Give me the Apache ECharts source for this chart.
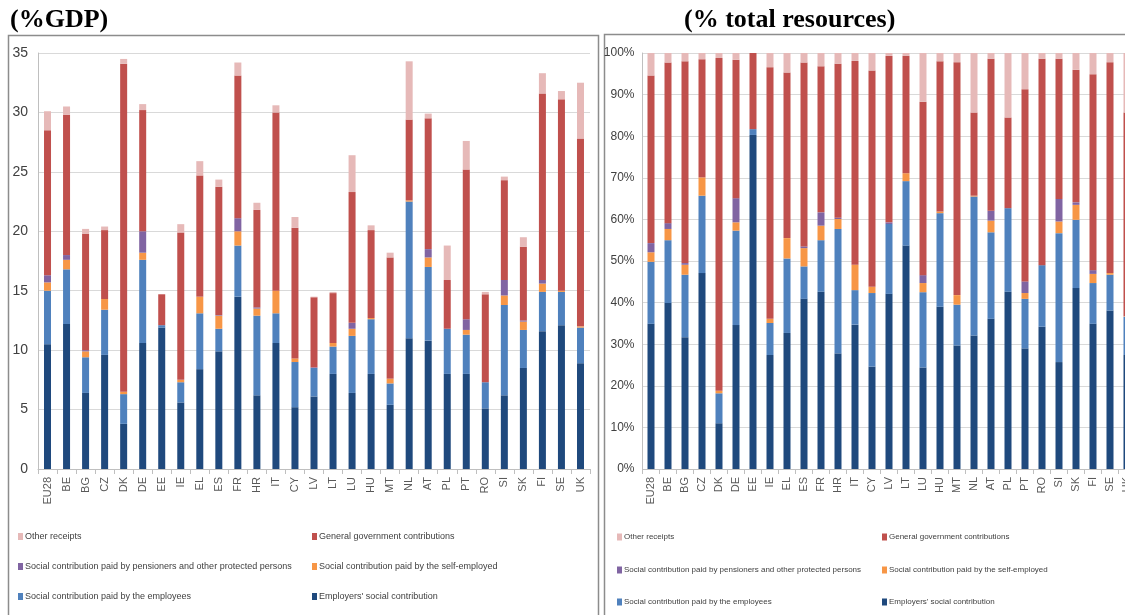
<!DOCTYPE html>
<html>
<head>
<meta charset="utf-8">
<script src="https://cdn.jsdelivr.net/npm/echarts@6/dist/echarts.min.js"></script>
<style>
  html, body { margin: 0; padding: 0; background: #fff; overflow: hidden; }
  /* wider than the window: the right panel is cut off at the edge, as in the source */
  #chart { width: 1150px; height: 615px; }
</style>
</head>
<body>
<div id="chart"></div>
<script>
const countries = ["EU28", "BE", "BG", "CZ", "DK", "DE", "EE", "IE", "EL", "ES", "FR", "HR", "IT", "CY", "LV",
  "LT", "LU", "HU", "MT", "NL", "AT", "PL", "PT", "RO", "SI", "SK", "FI", "SE", "UK"]

const seriesNames = [
  "Employers' social contribution",
  "Social contribution paid by the employees",
  "Social contribution paid by the self-employed",
  "Social contribution paid by pensioners and other protected persons",
  "General government contributions",
  "Other receipts"
]

// left panel, % of GDP
const gdpEmployers = [10.5, 12.2, 6.4, 9.6, 3.8, 10.6, 11.9, 5.6, 8.4, 9.9, 14.5, 6.2, 10.6, 5.2, 6.1,
  8.0, 6.4, 8.0, 5.4, 11.0, 10.8, 8.0, 8.0, 5.1, 6.2, 8.5, 11.6, 12.1, 8.9]
const gdpEmployees = [4.5, 4.6, 3.0, 3.8, 2.5, 7.0, 0.2, 1.7, 4.7, 1.9, 4.3, 6.7, 2.5, 3.8, 2.4,
  2.3, 4.8, 4.6, 1.8, 11.5, 6.2, 3.8, 3.3, 2.2, 7.6, 3.2, 3.3, 2.8, 3.0]
const gdpSelfEmployed = [0.7, 0.8, 0.5, 0.9, 0.2, 0.6, 0, 0.2, 1.4, 1.1, 1.2, 0.6, 1.9, 0.3, 0,
  0.3, 0.6, 0.1, 0.4, 0.1, 0.8, 0, 0.4, 0, 0.8, 0.7, 0.7, 0.1, 0.1]
const gdpPensioners = [0.6, 0.4, 0.1, 0, 0, 1.8, 0, 0, 0, 0.05, 1.1, 0.1, 0, 0, 0.05,
  0, 0.5, 0, 0, 0, 0.7, 0, 0.9, 0, 1.3, 0.1, 0.3, 0, 0]
const gdpGovernment = [12.2, 11.8, 9.8, 5.8, 27.6, 10.2, 2.6, 12.4, 10.2, 10.8, 12.0, 8.2, 15.0, 11.0, 5.9,
  4.2, 11.0, 7.4, 10.2, 6.8, 11.0, 4.1, 12.6, 7.4, 8.4, 6.2, 15.7, 16.1, 15.8]
const gdpOther = [1.6, 0.7, 0.4, 0.3, 0.4, 0.5, 0, 0.7, 1.2, 0.6, 1.1, 0.6, 0.6, 0.9, 0.05,
  0.1, 3.1, 0.4, 0.4, 4.9, 0.4, 2.9, 2.4, 0.2, 0.3, 0.8, 1.7, 0.7, 4.7]

// right panel, % of total resources
const resEmployers = [34.9, 39.9, 31.7, 47.1, 11.0, 34.6, 80.3, 27.4, 32.7, 40.9, 42.6, 27.8, 34.7, 24.6, 42.1,
  53.7, 24.4, 39.0, 29.7, 32.1, 36.1, 42.6, 29.0, 34.2, 25.7, 43.5, 34.9, 38.1, 27.4]
const resEmployees = [14.9, 15.1, 15.0, 18.6, 7.2, 22.7, 1.4, 7.7, 17.9, 7.8, 12.4, 29.9, 8.3, 17.7, 16.8,
  15.5, 18.1, 22.5, 9.8, 33.4, 20.8, 20.1, 11.9, 14.8, 31.0, 16.4, 9.8, 8.6, 9.2]
const resSelfEmployed = [2.3, 2.7, 2.4, 4.4, 0.6, 2.0, 0, 1.0, 4.9, 4.4, 3.5, 2.4, 6.1, 1.5, 0,
  1.9, 2.2, 0.4, 2.3, 0.2, 2.8, 0, 1.4, 0, 2.8, 3.6, 2.2, 0.4, 0.1]
const resPensioners = [2.2, 1.4, 0.4, 0, 0, 5.8, 0, 0, 0, 0.4, 3.2, 0.3, 0, 0, 0.4,
  0, 1.9, 0, 0, 0, 2.4, 0, 2.8, 0, 5.4, 0.6, 0.9, 0, 0]
const resGovernment = [40.3, 38.6, 48.5, 28.4, 80.0, 33.3, 18.3, 60.5, 39.8, 44.2, 35.1, 37.0, 49.0, 52.0, 40.0,
  28.2, 41.7, 36.1, 56.0, 20.0, 36.5, 21.8, 46.2, 49.6, 33.7, 31.9, 47.1, 50.7, 49.0]
const resOther = [5.4, 2.3, 2.0, 1.5, 1.2, 1.6, 0, 3.4, 4.7, 2.3, 3.2, 2.6, 1.9, 4.2, 0.7,
  0.7, 11.7, 2.0, 2.2, 14.3, 1.4, 15.5, 8.7, 1.4, 1.4, 4.0, 5.1, 2.2, 14.3]

const colors = ["#1f497d", "#4f81bd", "#f79646", "#8064a2", "#c0504d", "#e6b9b8"]
const sans = "'Liberation Sans', Arial, sans-serif"

const gdpData = [gdpEmployers, gdpEmployees, gdpSelfEmployed, gdpPensioners, gdpGovernment, gdpOther]
const resData = [resEmployers, resEmployees, resSelfEmployed, resPensioners, resGovernment, resOther]

function xAxisFor(gridIndex) {
  return {
    type: "category",
    gridIndex: gridIndex,
    data: countries,
    axisLine: { lineStyle: { color: "#bfbfbf", width: 1 } },
    axisTick: { show: true, length: 5, lineStyle: { color: "#bfbfbf" } },
    axisLabel: { rotate: 90, margin: 8, fontSize: 11, color: "#595959", fontFamily: sans }
  }
}

function yAxisFor(gridIndex, max, interval, fmt, fontSize, margin) {
  return {
    type: "value",
    gridIndex: gridIndex,
    min: 0,
    max: max,
    interval: interval,
    axisLine: { show: true, lineStyle: { color: "#bfbfbf" } },
    axisTick: { show: false },
    splitLine: { lineStyle: { color: "#d9d9d9", width: 1 } },
    axisLabel: { margin: margin, fontSize: fontSize, color: "#404040", fontFamily: sans, formatter: fmt }
  }
}

function stacks(data, axisIndex, stackName) {
  return data.map((vals, i) => ({
    name: seriesNames[i],
    type: "bar",
    stack: stackName,
    xAxisIndex: axisIndex,
    yAxisIndex: axisIndex,
    barWidth: 7,
    itemStyle: { color: colors[i] },
    data: vals
  }))
}

// legend: 2 columns x 3 rows under each panel
const legendRows = [
  [seriesNames[5], seriesNames[4]],
  [seriesNames[3], seriesNames[2]],
  [seriesNames[1], seriesNames[0]]
]

function legendsFor(col1, col2, rowTops, fontSize) {
  const out = []
  legendRows.forEach((row, r) => {
    row.forEach((name, c) => {
      out.push({
        data: [name],
        left: c === 0 ? col1 : col2,
        top: rowTops[r],
        icon: "rect",
        itemWidth: 5,
        itemHeight: 7,
        itemGap: 0,
        selectedMode: false,
        textStyle: { fontSize: fontSize, color: "#404040", fontFamily: sans, padding: [0, 0, 0, -3] }
      })
    })
  })
  return out
}

const chart = echarts.init(document.getElementById("chart"))

chart.setOption({
  animation: false,
  color: colors,
  title: [
    { text: "(%GDP)", left: 5, top: 2, textStyle: { fontFamily: "'Liberation Serif', serif", fontWeight: "bold", fontSize: 26, color: "#000" } },
    { text: "(% total resources)", left: 679, top: 2, textStyle: { fontFamily: "'Liberation Serif', serif", fontWeight: "bold", fontSize: 26, color: "#000" } }
  ],
  graphic: [
    { type: "rect", silent: true, shape: { x: 8.5, y: 35.5, width: 590, height: 620 }, style: { fill: "none", stroke: "#8c8c8c", lineWidth: 1.5 } },
    { type: "rect", silent: true, shape: { x: 604.5, y: 34.5, width: 620, height: 620 }, style: { fill: "none", stroke: "#8c8c8c", lineWidth: 1.5 } }
  ],
  legend: [].concat(legendsFor(13, 307, [527, 557, 587], 9), legendsFor(612, 877, [528, 561, 593], 8)),
  grid: [
    { left: 38, top: 53, width: 552, height: 416 },
    { left: 642.5, top: 53, width: 493, height: 416 }
  ],
  xAxis: [xAxisFor(0), xAxisFor(1)],
  yAxis: [yAxisFor(0, 35, 5, "{value}", 14, 10), yAxisFor(1, 100, 10, "{value}%", 12, 8)],
  series: [].concat(stacks(gdpData, 0, "gdp"), stacks(resData, 1, "res"))
})
</script>
</body>
</html>
